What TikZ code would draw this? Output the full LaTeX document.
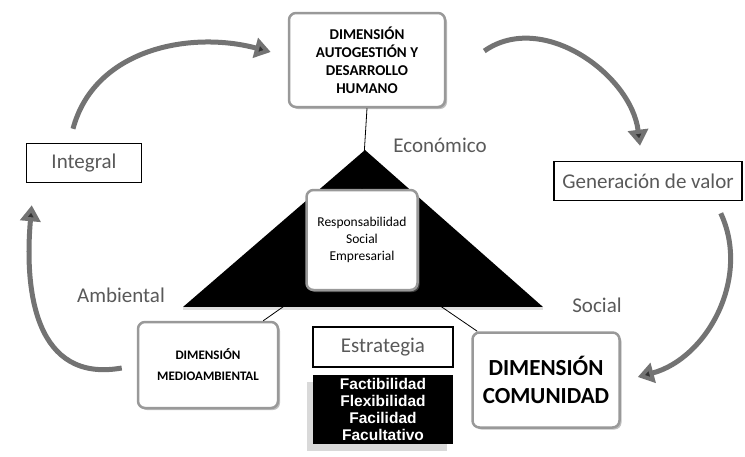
\documentclass[tikz,border=0pt]{standalone}
\usepackage{fontspec}
\setmainfont{Carlito}
\newfontfamily\arialfont{Liberation Sans}
\usepackage{tikz}
\usetikzlibrary{positioning, shadows, arrows.meta}
\tikzstyle{dimbox} = [rectangle, rounded corners=7pt, draw=black!40, line width=2.5pt, fill=white, align=center, text centered, drop shadow={shadow xshift=2pt, shadow yshift=-2pt, opacity=0.5}]
\tikzstyle{framebox} = [rectangle, draw=black, line width=1.5pt, fill=white, text=black!65, font=\fontsize{21}{24}\selectfont]
\tikzstyle{critbox} = [rectangle, fill=black, text=white, align=center, font=\arialfont\bfseries\fontsize{15.5}{17}\selectfont, drop shadow={shadow xshift=-6pt, shadow yshift=-7pt, opacity=0.3}]
\tikzstyle{glabel} = [text=black!65, font=\fontsize{21}{24}\selectfont]
\tikzstyle{bigarrow} = [line width=5pt, draw=black!55, -{Triangle[length=16pt, width=20pt, fill=black!80]}]
\tikzstyle{tie} = [thick, draw=black]

\begin{document}
\begin{tikzpicture}[x=1pt, y=1pt]
    \useasboundingbox (0,0) rectangle (745,-456);

    % triangle
    \coordinate (apex) at (365,-150);
    \coordinate (baseL) at (183,-307);
    \coordinate (baseR) at (543,-307);
    \fill [black] (apex) -- (baseL) -- (baseR) -- cycle;
    \draw [black!12, line width=2pt] ([yshift=-2pt]baseL) -- ([yshift=-2pt]baseR);

    \node (top) [dimbox, minimum width=156pt, minimum height=94pt, font=\bfseries\fontsize{15}{18}\selectfont] at (367,-60) {DIMENSIÓN\\AUTOGESTIÓN Y\\DESARROLLO\\HUMANO};
    \node (rse) [dimbox, minimum width=111pt, minimum height=100pt, font=\fontsize{13.5}{17}\selectfont] at (362,-240) {Responsabilidad\\Social\\Empresarial};
    \node (medio) [dimbox, minimum width=140pt, minimum height=86pt, font=\bfseries\fontsize{13}{21}\selectfont] at (208,-365) {DIMENSIÓN\\MEDIOAMBIENTAL};
    \node (comu) [dimbox, minimum width=147pt, minimum height=95pt, font=\bfseries\fontsize{23}{28}\selectfont] at (546,-380) {DIMENSIÓN\\COMUNIDAD};

    \node (estr) [framebox, minimum width=140pt, minimum height=40pt] at (383,-347) {Estrategia};
    \node (crit) [critbox, minimum width=140pt, minimum height=69pt, below=7pt of estr] {Factibilidad\\Flexibilidad\\Facilidad\\Facultativo};

    \node (integ) [framebox, minimum width=115pt, minimum height=39pt] at (84,-163) {Integral};
    \node (gener) [framebox, minimum width=188pt, minimum height=39pt] at (648,-181) {Generación de valor};

    \node (econ) [glabel] at (440,-145) {Económico};
    \node (amb) [glabel] at (121,-295) {Ambiental};
    \node (soc) [glabel] at (597,-305) {Social};

    \draw [tie] (top.south) -- (rse.north);
    \draw [tie] (rse.south west) -- ([xshift=-16pt]medio.north east);
    \draw [tie] (rse.south east) -- ([xshift=6pt]comu.north west);

    \draw [bigarrow] ([xshift=-11pt, yshift=14pt]integ.north) to[out=75, in=165] ([xshift=-17pt, yshift=8pt]top.west);
    \draw [bigarrow] ([xshift=38pt, yshift=9pt]top.east) to[out=35, in=97] ([xshift=-8pt, yshift=15pt]gener.north);
    \draw [bigarrow] ([xshift=-22pt, yshift=-12pt]gener.south east) to[out=-65, in=15] ([xshift=17pt, yshift=3pt]comu.east);
    \draw [bigarrow] ([xshift=-15pt, yshift=-3pt]medio.west) to[out=190, in=-95, looseness=1.2] ([xshift=6pt, yshift=-22pt]integ.south west);
\end{tikzpicture}
\end{document}
